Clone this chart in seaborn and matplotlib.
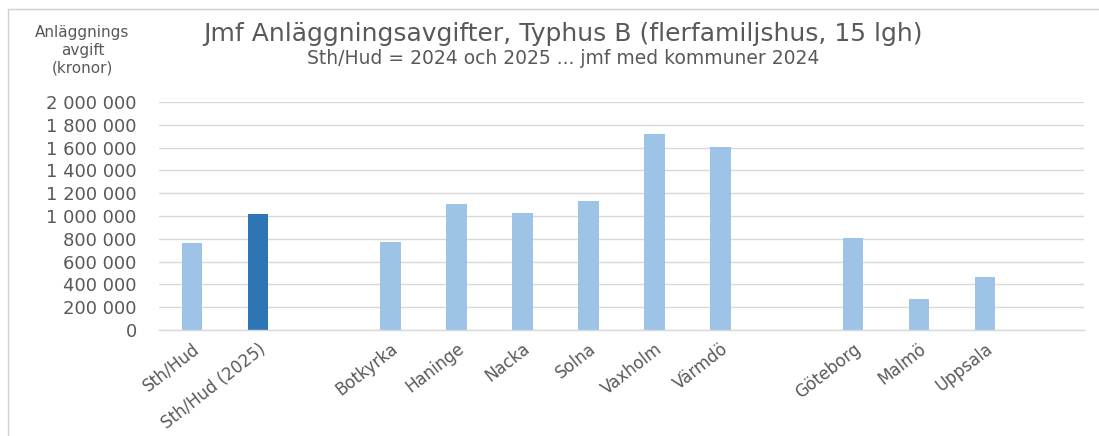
import matplotlib
matplotlib.use("Agg")
import matplotlib.pyplot as plt
from matplotlib.lines import Line2D
from matplotlib.ticker import FuncFormatter
import pandas as pd
import seaborn as sns

## Data

kommuner = ["Sth/Hud", "Sth/Hud (2025)", "Botkyrka", "Haninge", "Nacka", "Solna",
            "Vaxholm", "Värmdö", "Göteborg", "Malmö", "Uppsala"]
avgift = [760000, 1020000, 772000, 1108000, 1024000, 1134000,
          1717000, 1608000, 808000, 269000, 462000]
# empty slots between the groups on the x axis
ordning = ["Sth/Hud", "Sth/Hud (2025)", "_gap1", "Botkyrka", "Haninge", "Nacka", "Solna",
           "Vaxholm", "Värmdö", "_gap2", "Göteborg", "Malmö", "Uppsala", "_gap3"]
y_ticks = [0, 200000, 400000, 600000, 800000, 1000000, 1200000, 1400000,
           1600000, 1800000, 2000000]

LJUS = "#9DC3E6"
MORK = "#2E75B6"
GRA = "#595959"


def plot_avgifter(df):
    sns.set_style("white")
    plt.rcParams["font.family"] = ["DejaVu Sans"]

    fig = plt.figure(figsize=(10.99, 4.36), dpi=100)
    ax = fig.add_axes([0.1447, 0.2431, 0.8417, 0.5229])

    palette = {k: (MORK if k == "Sth/Hud (2025)" else LJUS) for k in kommuner}
    sns.barplot(data=df, x="Kommun", y="Avgift", hue="Kommun", order=ordning,
                palette=palette, width=0.31, legend=False, errorbar=None,
                saturation=1, edgecolor="none", ax=ax)

    ax.set_ylim(0, 2000000)
    ax.set_yticks(y_ticks)
    ax.yaxis.set_major_formatter(FuncFormatter(lambda v, p: f"{int(v):,}".replace(",", " ")))
    ax.grid(axis="y", color="#D9D9D9", linewidth=1)
    ax.set_axisbelow(True)
    for side in ["top", "right", "left"]:
        ax.spines[side].set_visible(False)
    ax.spines["bottom"].set_color("#D9D9D9")
    ax.spines["bottom"].set_linewidth(1)

    ax.set_xticks(range(len(ordning)))
    ax.set_xticklabels([k if not k.startswith("_gap") else "" for k in ordning],
                       rotation=38, ha="right", rotation_mode="anchor")
    ax.tick_params(axis="x", length=0, pad=7, labelsize=12, labelcolor=GRA)
    ax.tick_params(axis="y", length=0, pad=16, labelsize=13, labelcolor=GRA)
    ax.set_xlabel("")
    ax.set_ylabel("")

    fig.text(0.512, 0.922, "Jmf Anläggningsavgifter, Typhus B (flerfamiljshus, 15 lgh)",
             ha="center", va="center", fontsize=18, color=GRA)
    fig.text(0.512, 0.866, "Sth/Hud = 2024 och 2025 ... jmf med kommuner 2024",
             ha="center", va="center", fontsize=13.5, color=GRA)
    fig.text(0.075, 0.885, "Anläggnings\navgift\n(kronor)", ha="center", va="center",
             fontsize=11, color=GRA, linespacing=1.25)

    # thin frame at top and left, as in the screenshot
    fig.add_artist(Line2D([0.0073, 1.0], [0.979, 0.979], color="#D0D0D0", linewidth=1))
    fig.add_artist(Line2D([0.0073, 0.0073], [0.0, 0.979], color="#D0D0D0", linewidth=1))

    fig.savefig("out.png", dpi=100, facecolor="white")


if __name__ == "__main__":
    df = pd.DataFrame({"Kommun": kommuner, "Avgift": avgift})
    plot_avgifter(df)
